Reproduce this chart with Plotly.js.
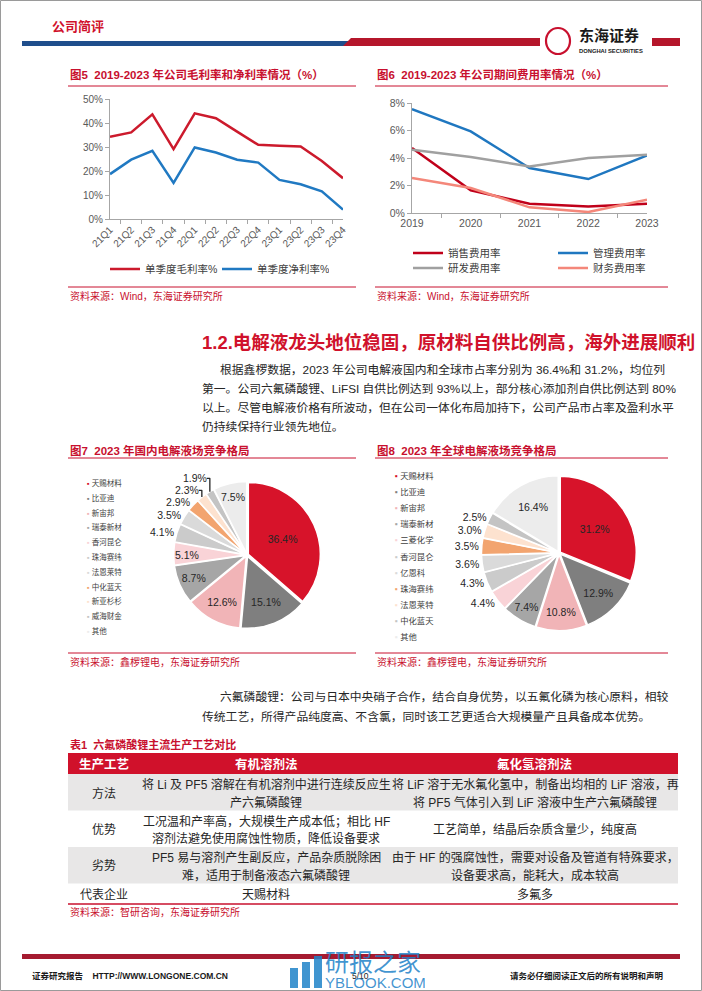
<!DOCTYPE html>
<html><head><meta charset="utf-8">
<script src="https://cdn.plot.ly/plotly-3.0.1.min.js"></script>
<style>html,body{margin:0;padding:0;background:#fff}#c{width:702px;height:991px}</style>
</head><body><div id="c"></div>
<script>
// ---------------- data ----------------
const quarters=['21Q1','21Q2','21Q3','21Q4','22Q1','22Q2','22Q3','22Q4','23Q1','23Q2','23Q3','23Q4'];
const grossMargin=[34.3,36.1,43.6,29.1,44.0,42.0,36.4,30.9,30.5,30.2,24.2,17.0];
const netMargin=[18.7,24.7,28.4,15.0,29.8,27.7,24.7,23.5,16.3,14.5,11.5,3.9];

const years=['2019','2020','2021','2022','2023'];
const salesExpense=[4.73,1.65,0.68,0.48,0.68];
const adminExpense=[7.56,5.94,3.27,2.47,4.19];
const rdExpense=[4.60,4.07,3.39,4.00,4.24];
const financeExpense=[2.55,1.82,0.41,0.07,0.97];

const domesticNames=['天赐材料','比亚迪','新宙邦','瑞泰新材','香河昆仑','珠海赛纬','法恩莱特','中化蓝天','新亚杉杉','威海财金','其他'];
const domesticShare=[36.4,15.1,12.6,8.7,5.1,4.1,3.5,2.9,2.3,1.9,7.5];

const globalNames=['天赐材料','比亚迪','新宙邦','瑞泰新材','三菱化学','香河昆仑','亿恩科','珠海赛纬','法恩莱特','中化蓝天','其他'];
const globalShare=[31.2,12.9,10.8,7.4,4.4,4.3,3.6,3.5,3.0,2.5,16.4];

const tableHeader=['生产工艺','有机溶剂法','氟化氢溶剂法'];
const tableAspects=['方法','优势','劣势','代表企业'];
const organicMethod=['将 Li 及 PF5 溶解在有机溶剂中进行连续反应生<br>产六氟磷酸锂','工况温和产率高，大规模生产成本低；相比 HF<br>溶剂法避免使用腐蚀性物质，降低设备要求','PF5 易与溶剂产生副反应，产品杂质脱除困<br>难，适用于制备液态六氟磷酸锂','天赐材料'];
const hfMethod=['将 LiF 溶于无水氟化氢中，制备出均相的 LiF 溶液，再<br>将 PF5 气体引入到 LiF 溶液中生产六氟磷酸锂','工艺简单，结晶后杂质含量少，纯度高','由于 HF 的强腐蚀性，需要对设备及管道有特殊要求，<br>设备要求高，能耗大，成本较高','多氟多'];

// ---------------- helpers ----------------
const W=702,H=991;
const px=x=>x/W, py=y=>1-y/H;
const RED='#c8102e';
const FONT="'Liberation Sans', Arial, 'Noto Sans CJK SC', sans-serif";
const pieColors=['#d7132a','#7f7f7f','#f1b4b7','#a6a6a6','#f9d3d7','#cbcbcb','#dadada','#f2a46f','#fde2cf','#c4c4c4','#ececec'];

function txt(x,y,text,size,color,opts){
  return Object.assign({xref:'paper',yref:'paper',x:px(x),y:py(y),text:text,showarrow:false,
    xanchor:'left',yanchor:'middle',font:{family:FONT,size:size,color:color}},opts||{});
}
function hline(x0,x1,y,color,w){
  return {type:'line',xref:'paper',yref:'paper',x0:px(x0),x1:px(x1),y0:py(y),y1:py(y),line:{color:color,width:w}};
}
function rect(x0,y0,x1,y1,fill){
  return {type:'rect',xref:'paper',yref:'paper',x0:px(x0),x1:px(x1),y0:py(y0),y1:py(y1),fillcolor:fill,line:{width:0},layer:'below'};
}

// ---------------- traces ----------------
const traces=[
  {type:'scatter',mode:'lines',x:quarters,y:grossMargin,name:'单季度毛利率%',line:{color:'#cc1a2c',width:2.5},xaxis:'x',yaxis:'y',legend:'legend'},
  {type:'scatter',mode:'lines',x:quarters,y:netMargin,name:'单季度净利率%',line:{color:'#2079c2',width:2.5},xaxis:'x',yaxis:'y',legend:'legend'},
  {type:'scatter',mode:'lines',x:years,y:salesExpense,name:'销售费用率',line:{color:'#c0001a',width:2.5},xaxis:'x2',yaxis:'y2',legend:'legend2'},
  {type:'scatter',mode:'lines',x:years,y:adminExpense,name:'管理费用率',line:{color:'#1f77c0',width:2.5},xaxis:'x2',yaxis:'y2',legend:'legend2'},
  {type:'scatter',mode:'lines',x:years,y:rdExpense,name:'研发费用率',line:{color:'#a0a0a0',width:2.5},xaxis:'x2',yaxis:'y2',legend:'legend3'},
  {type:'scatter',mode:'lines',x:years,y:financeExpense,name:'财务费用率',line:{color:'#f4877a',width:2.5},xaxis:'x2',yaxis:'y2',legend:'legend3'}
];

function pieTrace(names,vals,cx,cy,r){
  const pull=0.02, half=r*(1+pull);
  return {type:'pie',labels:names,values:vals,sort:false,direction:'clockwise',rotation:0,
    marker:{colors:pieColors,line:{color:'#ffffff',width:1.5}},pull:pull,
    texttemplate:'%{value:.1f}%',textposition:vals.map(v=>v>=5?'inside':'outside'),
    insidetextorientation:'horizontal',
    textfont:{family:FONT,size:10.5,color:'#262626'},
    showlegend:false,hoverinfo:'skip',
    domain:{x:[px(cx-half),px(cx+half)],y:[py(cy+half),py(cy-half)]}};
}
traces.push(pieTrace(domesticNames,domesticShare,247,555,72));
traces.push(pieTrace(globalNames,globalShare,559,553,76));

// ---------------- layout ----------------
const axisCommon={showline:true,linecolor:'#a6a6a6',linewidth:1,ticks:'outside',ticklen:4,tickcolor:'#a6a6a6',
  showgrid:false,zeroline:false,tickfont:{family:FONT,size:10,color:'#595959'},fixedrange:true};

const annotations=[
  txt(50,26,'<b>公司简评</b>',13,'#d0112b'),
  txt(577,35,'<b>东海证券</b>',15,'#1a1a1a'),
  txt(577,51,'<b>DONGHAI SECURITIES</b>',5.8,'#1a1a1a'),
  txt(68,75,'<b>图5  2019-2023 年公司毛利率和净利率情况（%）</b>',11.5,RED),
  txt(375,75,'<b>图6  2019-2023 年公司期间费用率情况（%）</b>',11.5,RED),
  txt(68,296,'资料来源：Wind，东海证券研究所',10,RED),
  txt(375,296,'资料来源：Wind，东海证券研究所',10,RED),
  txt(200,342,'<b>1.2.电解液龙头地位稳固，原材料自供比例高，海外进展顺利</b>',18.5,'#d0112b'),
  txt(218,370,'根据鑫椤数据，2023 年公司电解液国内和全球市占率分别为 36.4%和 31.2%，均位列',11.8,'#262626'),
  txt(200,389,'第一。公司六氟磷酸锂、LiFSI 自供比例达到 93%以上，部分核心添加剂自供比例达到 80%',11.8,'#262626'),
  txt(200,408,'以上。尽管电解液价格有所波动，但在公司一体化布局加持下，公司产品市占率及盈利水平',11.8,'#262626'),
  txt(200,427,'仍持续保持行业领先地位。',11.8,'#262626'),
  txt(68,450,'<b>图7  2023 年国内电解液场竞争格局</b>',11.5,RED),
  txt(375,450,'<b>图8  2023 年全球电解液场竞争格局</b>',11.5,RED),
  txt(68,662,'资料来源：鑫椤锂电，东海证券研究所',10,RED),
  txt(375,662,'资料来源：鑫椤锂电，东海证券研究所',10,RED),
  txt(218,697,'六氟磷酸锂：公司与日本中央硝子合作，结合自身优势，以五氟化磷为核心原料，相较',11.8,'#262626'),
  txt(200,717,'传统工艺，所得产品纯度高、不含氯，同时该工艺更适合大规模量产且具备成本优势。',11.8,'#262626'),
  txt(68,744,'<b>表1  六氟磷酸锂主流生产工艺对比</b>',11,RED),
  txt(68,912,'资料来源：智研咨询，东海证券研究所',10,RED),
  txt(30,976,'<b>证券研究报告    HTTP://WWW.LONGONE.COM.CN</b>',8.5,'#1a1a1a'),
  txt(350,976,'5/10',8.5,'#1a1a1a'),
  txt(665,976,'<b>请务必仔细阅读正文后的所有说明和声明</b>',8.5,'#1a1a1a',{xanchor:'right'}),
  txt(323,962,'研报之家',24,'rgba(30,130,200,0.85)'),
  txt(323,982,'YBLOOK.COM',15,'rgba(30,130,200,0.85)')
];
// pie legends (built from category arrays)
domesticNames.forEach((n,i)=>annotations.push(txt(85,483+i*14.8,'<span style="color:'+pieColors[i]+'">▪</span> '+n,7.5,'#404040')));
globalNames.forEach((n,i)=>annotations.push(txt(393,476+i*16.1,'<span style="color:'+pieColors[i]+'">▪</span> '+n,8.3,'#404040')));

const shapes=[
  {type:'rect',xref:'paper',yref:'paper',x0:px(0.5),x1:px(701.5),y0:py(0.5),y1:py(990.5),line:{color:'#9a9a9a',width:1}},
  rect(22,41,348,46,'#1f4e8c'),
  {type:'path',xref:'paper',yref:'paper',path:'M'+px(343)+','+py(46)+' L'+px(351)+','+py(38)+' L'+px(540)+','+py(38)+' L'+px(540)+','+py(46)+' Z',fillcolor:'#b5162b',line:{width:0}},
  rect(652,38,680,46,'#b5162b'),
  {type:'circle',xref:'paper',yref:'paper',x0:px(546),x1:px(570),y0:py(54),y1:py(28),line:{color:'#c8102e',width:2.2}},
  hline(68,356,86,RED,1), hline(375,668,86,RED,1),
  hline(68,356,287,RED,1), hline(375,668,287,RED,1),
  hline(68,356,458,RED,1), hline(375,668,458,RED,1),
  hline(68,356,653,RED,1), hline(375,668,653,RED,1),
  rect(22,954,680,959,'#a51b30'),
  rect(290,968,298,988,'rgba(30,130,200,0.85)'),
  rect(302,962,310,988,'rgba(30,130,200,0.85)'),
  rect(314,956,322,988,'rgba(30,130,200,0.85)')
];

// ---------------- table (cells built from the table arrays) ----------------
const colEdges=[68,140,392,678];
const colCenter=j=>(colEdges[j]+colEdges[j+1])/2;
const tableTop=753, headerH=21, linePitch=17.5;
shapes.push(rect(colEdges[0],tableTop,colEdges[3],tableTop+headerH,'#d0112b'));
tableHeader.forEach((h,j)=>annotations.push(txt(colCenter(j),tableTop+headerH/2+0.5,'<b>'+h+'</b>',12.5,'#ffffff',{xanchor:'center'})));
let rowY=tableTop+headerH;
tableAspects.forEach((a,i)=>{
  const rowCells=[a,organicMethod[i],hfMethod[i]];
  const nLines=Math.max.apply(null,rowCells.map(c=>c.split('<br>').length));
  const h=nLines===1?20:36.5;
  if(i%2===0) shapes.push(rect(colEdges[0],rowY,colEdges[3],rowY+h,'#e8e7e7'));
  rowCells.forEach((c,j)=>{
    const parts=c.split('<br>');
    parts.forEach((p,k)=>annotations.push(txt(colCenter(j),rowY+h/2+1+(k-(parts.length-1)/2)*linePitch,p,12,'#262626',{xanchor:'center'})));
  });
  rowY+=h;
});
shapes.push(hline(colEdges[0],colEdges[3],rowY+0.5,RED,1.5));

const legendCommon={orientation:'h',xanchor:'left',yanchor:'middle',bgcolor:'rgba(0,0,0,0)',itemwidth:30,
  font:{family:FONT,size:10.5,color:'#404040'},entrywidthmode:'pixels'};

const layout={
  width:W,height:H,margin:{l:0,r:0,t:0,b:0},paper_bgcolor:'#ffffff',plot_bgcolor:'rgba(0,0,0,0)',
  hovermode:false,
  xaxis:Object.assign({},axisCommon,{domain:[px(110),px(343)],anchor:'y',type:'category',tickangle:-45,tickson:'boundaries'}),
  yaxis:Object.assign({},axisCommon,{domain:[py(219),py(99)],anchor:'x',range:[0,50],dtick:10,ticksuffix:'%'}),
  xaxis2:Object.assign({},axisCommon,{domain:[px(412),px(647)],anchor:'y2',type:'category',tickson:'boundaries',tickfont:{family:FONT,size:10.5,color:'#595959'}}),
  yaxis2:Object.assign({},axisCommon,{domain:[py(213),py(103)],anchor:'x2',range:[0,8],dtick:2,ticksuffix:'%',tickfont:{family:FONT,size:10.5,color:'#595959'}}),
  legend:Object.assign({},legendCommon,{x:px(105),y:py(269),entrywidth:67}),
  legend2:Object.assign({},legendCommon,{x:px(408),y:py(253),entrywidth:100}),
  legend3:Object.assign({},legendCommon,{x:px(408),y:py(268),entrywidth:100}),
  annotations:annotations,shapes:shapes
};

Plotly.newPlot('c',traces,layout,{staticPlot:true,displayModeBar:false});
</script></body></html>
